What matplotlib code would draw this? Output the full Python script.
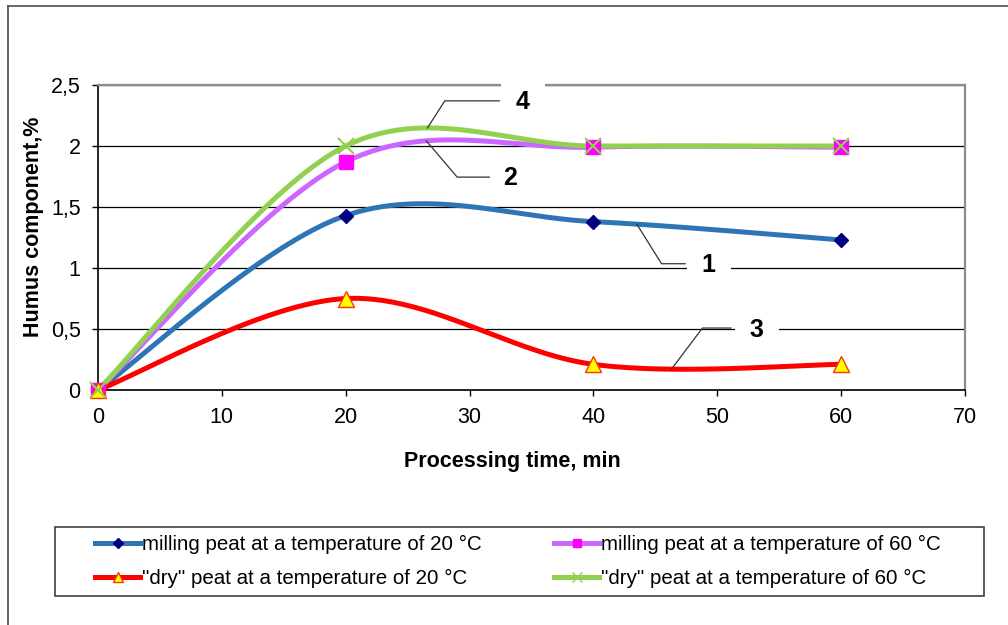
import numpy as np
import matplotlib
matplotlib.use('Agg')
import matplotlib.pyplot as plt
from matplotlib.lines import Line2D
from matplotlib.patches import Rectangle
from matplotlib.ticker import FuncFormatter

# ---------------- data ----------------
time_min = [0, 20, 40, 60]
milling_20 = [0, 1.43, 1.38, 1.23]
milling_60 = [0, 1.87, 1.99, 1.99]
dry_20 = [0, 0.75, 0.21, 0.21]
dry_60 = [0, 2.0, 2.0, 2.0]

series_labels = ['milling peat at a temperature of 20 °C',
                 'milling peat at a temperature of 60 °C',
                 '"dry" peat at a temperature of 20 °C',
                 '"dry" peat at a temperature of 60 °C']
curve_numbers = ['1', '2', '3', '4']
x_ticks = [0, 10, 20, 30, 40, 50, 60, 70]
y_ticks = [0, 0.5, 1, 1.5, 2, 2.5]
x_title = 'Processing time, min'
y_title = 'Humus component,%'

plt.rcParams['font.family'] = ['Liberation Sans', 'DejaVu Sans']

W, H = 1008, 625
fig = plt.figure(figsize=(W / 100, H / 100), dpi=100)


def fx(px):
    return px / W


def fy(py):
    return 1 - py / H


def smooth(x, y, n=60):
    """Excel-like smoothed line (Catmull-Rom Bezier through the points)."""
    P = np.column_stack([x, y]).astype(float)
    m = len(P)
    out = []
    t = np.linspace(0, 1, n)[:, None]
    for i in range(m - 1):
        p0 = P[i - 1] if i > 0 else P[i]
        p1, p2 = P[i], P[i + 1]
        p3 = P[i + 2] if i + 2 < m else P[i + 1]
        c1 = p1 + (p2 - p0) / 6
        c2 = p2 - (p3 - p1) / 6
        seg = (1 - t) ** 3 * p1 + 3 * (1 - t) ** 2 * t * c1 + 3 * (1 - t) * t ** 2 * c2 + t ** 3 * p2
        out.append(seg if i == 0 else seg[1:])
    out = np.vstack(out)
    return out[:, 0], out[:, 1]


# outer frame (only top/left visible)
fig.add_artist(Line2D([fx(8), fx(8)], [fy(6), 0], color='#5a5a5a', lw=1.3))
fig.add_artist(Line2D([fx(8), 1], [fy(6), fy(6)], color='#5a5a5a', lw=1.3))

ax = fig.add_axes([fx(98), fy(390), fx(965) - fx(98), fy(85) - fy(390)])
ax.set_xlim(0, 70)
ax.set_ylim(0, 2.5)

styles = [
    dict(color='#2E75B6', marker='D', mfc='#000080', mec='#000080', ms=7.5, mew=1),
    dict(color='#CC66FF', marker='s', mfc='#FF00FF', mec='#FF00FF', ms=10.5, mew=1),
    dict(color='#FF0000', marker='^', mfc='#FFFF00', mec='#FF3300', ms=12, mew=1),
    dict(color='#92D050', marker='x', mfc='#92D050', mec='#92D050', ms=11, mew=1.5),
]
series = [milling_20, milling_60, dry_20, dry_60]
curves = []
for i, (vals, st) in enumerate(zip(series, styles)):
    sx, sy = smooth(time_min, vals)
    curves.append((sx, sy))
    ax.plot(sx, sy, color=st['color'], lw=3.6, solid_capstyle='round', zorder=3 + i)
    ax.plot(time_min, vals, ls='none', marker=st['marker'], mfc=st['mfc'], mec=st['mec'],
            ms=st['ms'], mew=st['mew'], zorder=12 + i, clip_on=False)

# gridlines & spines
ax.set_yticks(y_ticks)
ax.set_xticks(x_ticks)
ax.yaxis.grid(True, color='#000000', lw=0.9)
ax.set_axisbelow(True)
ax.spines['top'].set_color('#8c8c8c')
ax.spines['right'].set_color('#8c8c8c')
ax.spines['top'].set_linewidth(1.6)
ax.spines['right'].set_linewidth(1.6)
ax.spines['left'].set_color('#000000')
ax.spines['bottom'].set_color('#000000')
ax.spines['left'].set_linewidth(1.2)
ax.spines['bottom'].set_linewidth(1.2)
ax.tick_params(axis='both', direction='out', length=4.5, width=1, color='#000000',
               labelsize=15.5, labelcolor='#000000')
ax.tick_params(axis='y', pad=8)
ax.tick_params(axis='x', pad=8)
ax.yaxis.set_major_formatter(FuncFormatter(lambda v, p: '{:g}'.format(v).replace('.', ',')))

fig.text(fx(34), fy(227), y_title, rotation=90, ha='center', va='center',
         fontsize=15.5, fontweight='bold')
fig.text(fx(512), fy(462), x_title, ha='center', va='center', fontsize=15.5, fontweight='bold')

# curve number callouts (layout: anchor x on curve, knee, line end, text position)
callouts = [
    # (series index, anchor x, knee (x,y), end x, text (x,y))
    (0, 43.5, (45.5, 1.035), 47.4, (49.3, 1.025)),
    (1, 26.5, (29.0, 1.745), 31.6, (33.3, 1.735)),
    (2, 46.3, (48.8, 0.508), 51.1, (53.2, 0.495)),
    (3, 26.6, (28.0, 2.37), 32.4, (34.3, 2.36)),
]
for idx, ax_x, knee, end_x, tpos in callouts:
    sx, sy = curves[idx]
    ay = np.interp(ax_x, sx, sy)
    ax.plot([ax_x, knee[0], end_x], [ay, knee[1], knee[1]], color='#333333', lw=0.9,
            zorder=10, clip_on=False)
    ax.text(tpos[0], tpos[1], curve_numbers[idx], ha='center', va='center', fontsize=18,
            fontweight='bold', zorder=9, clip_on=False,
            bbox=dict(boxstyle='square,pad=0.6', fc='white', ec='none'))

# legend box
fig.add_artist(Rectangle((fx(55), fy(596)), fx(984) - fx(55), fy(527) - fy(596),
                         fill=False, ec='#404040', lw=1.2, transform=fig.transFigure))
handles = []
for st in styles:
    ms = {'D': 5, 's': 6, '^': 7, 'x': 7}[st['marker']]
    handles.append(Line2D([], [], color=st['color'], lw=3.6, marker=st['marker'],
                          mfc=st['mfc'], mec=st['mec'], ms=ms, mew=1))
order = [0, 2, 1, 3]
leg = fig.legend([handles[i] for i in order], [series_labels[i] for i in order], ncol=2,
                 loc='center left', bbox_to_anchor=(fx(95), fy(561.5)), frameon=False,
                 fontsize=14.8, handlelength=2.2, handletextpad=0.1, columnspacing=3.5,
                 labelspacing=0.72, borderpad=0, borderaxespad=0)

fig.savefig('out.png', dpi=100)
